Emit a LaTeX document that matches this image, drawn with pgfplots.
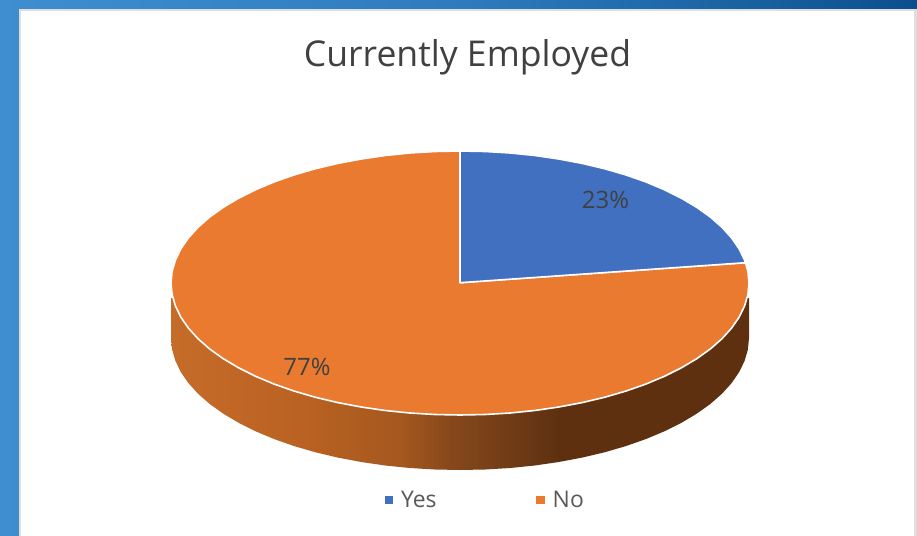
\documentclass[border=0pt]{standalone}
\usepackage{fontspec}
\setmainfont{Open Sans}
\usepackage{pgfplots}
\usepackage{pgfplotstable}
\pgfplotsset{compat=1.18}

\definecolor{slYes}{HTML}{4270C0}
\definecolor{slNo}{HTML}{E97A2F}
\definecolor{lbl}{HTML}{404040}
\definecolor{legtxt}{HTML}{595959}

% only 25bp..75bp of a shading lands on the path's box
\pgfdeclarehorizontalshading{pieside}{100bp}{
  color(0bp)=(rgb,255:red,198;green,108;blue,41);
  color(25bp)=(rgb,255:red,198;green,108;blue,41);
  color(36.2bp)=(rgb,255:red,186;green,98;blue,35);
  color(44.8bp)=(rgb,255:red,165;green,88;blue,31);
  color(49.1bp)=(rgb,255:red,135;green,72;blue,27);
  color(53.5bp)=(rgb,255:red,115;green,62;blue,23);
  color(58.6bp)=(rgb,255:red,94;green,48;blue,16);
  color(75bp)=(rgb,255:red,94;green,48;blue,16);
  color(100bp)=(rgb,255:red,94;green,48;blue,16)}
\pgfdeclarehorizontalshading{backdrop}{100bp}{
  color(0bp)=(rgb,255:red,62;green,142;blue,208);
  color(25bp)=(rgb,255:red,62;green,142;blue,208);
  color(49.5bp)=(rgb,255:red,46;green,124;blue,190);
  color(64bp)=(rgb,255:red,27;green,101;blue,165);
  color(75bp)=(rgb,255:red,11;green,78;blue,142);
  color(100bp)=(rgb,255:red,11;green,78;blue,142)}

% outlines in picture pixels, y running down
\pgfplotstableread{
x y
460 282.7
460 151
485.2 151.5
510.2 153
534.8 155.5
558.8 159
582.1 163.4
604.5 168.7
625.8 174.9
645.8 181.9
664.4 189.7
681.4 198.2
696.7 207.3
710.3 217
721.9 227.2
731.6 237.9
739.1 248.8
744.6 260.1
745.5 262.7
}\sliceyes

\pgfplotstableread{
x y
460 282.7
745.5 262.7
747.9 271.5
749 283
747.9 294.5
744.6 305.9
739.1 317.2
731.6 328.1
721.9 338.8
710.3 349
696.7 358.7
681.4 367.8
664.4 376.3
645.8 384.1
625.8 391.1
604.5 397.3
582.1 402.6
558.8 407
534.8 410.5
510.2 413
485.2 414.5
460 415
434.8 414.5
409.8 413
385.2 410.5
361.2 407
337.9 402.6
315.5 397.3
294.2 391.1
274.2 384.1
255.6 376.3
238.6 367.8
223.3 358.7
209.7 349
198.1 338.8
188.4 328.1
180.9 317.2
175.4 305.9
172.1 294.5
171 283
172.1 271.5
175.4 260.1
180.9 248.8
188.4 237.9
198.1 227.2
209.7 217
223.3 207.3
238.6 198.2
255.6 189.7
274.2 181.9
294.2 174.9
315.5 168.7
337.9 163.4
361.2 159
385.2 155.5
409.8 153
434.8 151.5
460 151
}\sliceno

\pgfplotstableread{
x y
749 298
749 338
747.9 349.5
744.6 360.9
739.1 372.2
731.6 383.1
721.9 393.8
710.3 404
696.7 413.7
681.4 422.8
664.4 431.3
645.8 439.1
625.8 446.1
604.5 452.3
582.1 457.6
558.8 462
534.8 465.5
510.2 468
485.2 469.5
460 470
434.8 469.5
409.8 468
385.2 465.5
361.2 462
337.9 457.6
315.5 452.3
294.2 446.1
274.2 439.1
255.6 431.3
238.6 422.8
223.3 413.7
209.7 404
198.1 393.8
188.4 383.1
180.9 372.2
175.4 360.9
172.1 349.5
171 338
171 298
460 300
}\pieside

\begin{document}
\begin{tikzpicture}
\begin{axis}[
    scale only axis,
    width=917bp, height=536bp,
    xmin=0, xmax=917, ymin=0, ymax=536,
    y dir=reverse,
    hide axis,
    legend columns=2,
    legend cell align=left,
    legend style={
      at={(0.5293,0.067)}, anchor=center,
      draw=none, fill=none,
      font=\fontsize{23}{27}\selectfont\color{legtxt},
      /tikz/every odd column/.append style={column sep=7bp},
      /tikz/every even column/.append style={column sep=98bp}
    },
]
  % window behind the chart
  \addplot[forget plot, mark=none, draw=none, shade, shading=backdrop]
    coordinates {(0,0) (917,0) (917,536) (0,536)} -- cycle;
  \addplot[forget plot, mark=none, draw=none, fill=black!13]
    coordinates {(19,9) (917,9) (917,536) (19,536)} -- cycle;
  \addplot[forget plot, mark=none, draw=none, fill=white]
    coordinates {(21,11) (914,11) (914,536) (21,536)} -- cycle;

  \addplot[forget plot, mark=none, draw=none, shade, shading=pieside]
    table {\pieside} -- cycle;
  \addplot[forget plot, mark=none, draw=white, line width=1.6bp, line join=round, fill=slNo]
    table {\sliceno} -- cycle;
  \addplot[forget plot, mark=none, draw=white, line width=1.6bp, line join=round, fill=slYes]
    table {\sliceyes} -- cycle;

  \addlegendimage{only marks, mark=square*, mark size=3.6bp, color=slYes}
  \addlegendentry{Yes}
  \addlegendimage{only marks, mark=square*, mark size=3.6bp, color=slNo}
  \addlegendentry{No}

  \node[font=\fontsize{35.7}{42}\selectfont, text=lbl] at (axis cs:467.5,57) {Currently Employed};
  \node[font=\fontsize{24}{28}\selectfont, text=lbl] at (axis cs:605.5,200) {23\%};
  \node[font=\fontsize{24}{28}\selectfont, text=lbl] at (axis cs:307,367) {77\%};
\end{axis}
\end{tikzpicture}
\end{document}
